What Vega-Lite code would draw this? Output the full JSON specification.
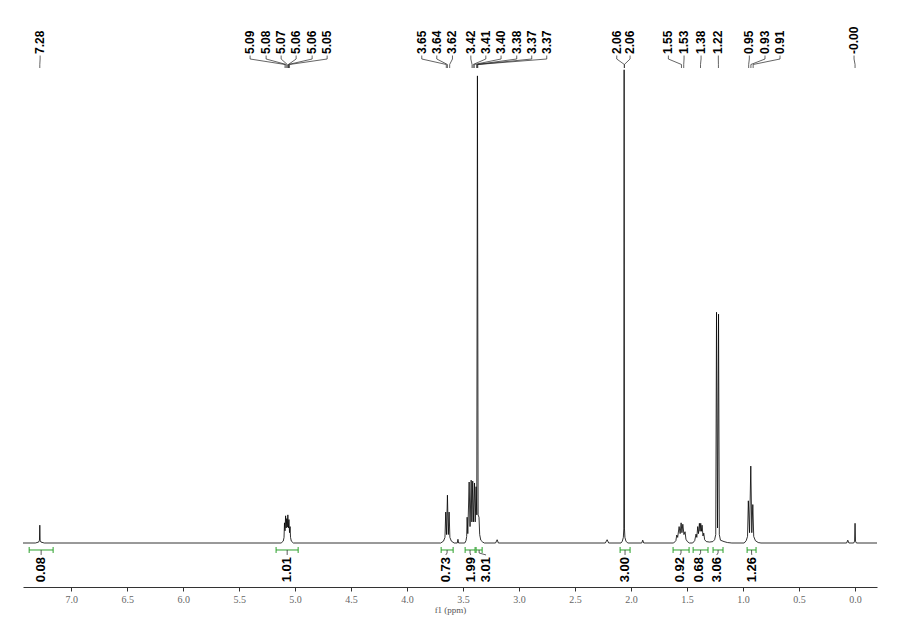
{
  "$schema": "https://vega.github.io/schema/vega-lite/v6.json",
  "width": 854,
  "height": 587,
  "autosize": {"type": "none"},
  "padding": {"left": 23, "top": 0, "right": 23, "bottom": 48},
  "background": "white",
  "config": {"view": {"stroke": null}, "axisY": {"disable": true}, "axis": {"grid": false}},
  "datasets": {
    "spectrum": [
      {"ppm":7.43,"i":0},{"ppm":7.32,"i":0},{"ppm":7.29,"i":0.2},{"ppm":7.283,"i":0.6},{"ppm":7.28,"i":3.8},{"ppm":7.277,"i":0.6},{"ppm":7.27,"i":0.2},{"ppm":7.24,"i":0},
      {"ppm":5.125,"i":0},{"ppm":5.106,"i":0.4},{"ppm":5.099,"i":1.2},{"ppm":5.095,"i":4.3},{"ppm":5.09,"i":2.6},{"ppm":5.085,"i":5.8},{"ppm":5.08,"i":3.2},{"ppm":5.075,"i":5.2},{"ppm":5.07,"i":3.4},{"ppm":5.065,"i":6.0},{"ppm":5.06,"i":3.2},{"ppm":5.055,"i":5.0},{"ppm":5.05,"i":2.2},{"ppm":5.045,"i":3.5},{"ppm":5.041,"i":1.2},{"ppm":5.034,"i":0.4},{"ppm":5.015,"i":0},
      {"ppm":3.70,"i":0},{"ppm":3.675,"i":0.4},{"ppm":3.662,"i":1.2},{"ppm":3.655,"i":6.6},{"ppm":3.648,"i":1.8},{"ppm":3.64,"i":10.2},{"ppm":3.632,"i":1.8},{"ppm":3.625,"i":6.6},{"ppm":3.618,"i":1.2},{"ppm":3.605,"i":0.4},{"ppm":3.58,"i":0},
      {"ppm":3.552,"i":0},{"ppm":3.546,"i":0.8},{"ppm":3.54,"i":0},
      {"ppm":3.485,"i":0},{"ppm":3.474,"i":0.5},{"ppm":3.468,"i":1.4},{"ppm":3.464,"i":5.5},{"ppm":3.458,"i":2.0},{"ppm":3.446,"i":13.0},{"ppm":3.438,"i":3.5},{"ppm":3.428,"i":13.4},{"ppm":3.422,"i":4.5},{"ppm":3.414,"i":13.2},{"ppm":3.408,"i":4.5},{"ppm":3.398,"i":12.8},{"ppm":3.392,"i":4.5},{"ppm":3.384,"i":12.0},{"ppm":3.378,"i":6.0},{"ppm":3.372,"i":99.6},{"ppm":3.366,"i":6.0},{"ppm":3.358,"i":5.5},{"ppm":3.352,"i":1.8},{"ppm":3.342,"i":0.6},{"ppm":3.325,"i":0.2},{"ppm":3.31,"i":0},
      {"ppm":3.21,"i":0},{"ppm":3.196,"i":0.7},{"ppm":3.185,"i":0},
      {"ppm":2.23,"i":0},{"ppm":2.214,"i":0.7},{"ppm":2.20,"i":0},
      {"ppm":2.09,"i":0},{"ppm":2.078,"i":0.4},{"ppm":2.069,"i":1.2},{"ppm":2.065,"i":3.0},{"ppm":2.062,"i":100.9},{"ppm":2.059,"i":3.0},{"ppm":2.055,"i":1.2},{"ppm":2.046,"i":0.4},{"ppm":2.03,"i":0},
      {"ppm":1.905,"i":0},{"ppm":1.896,"i":0.6},{"ppm":1.887,"i":0},
      {"ppm":1.62,"i":0},{"ppm":1.60,"i":0.5},{"ppm":1.592,"i":1.7},{"ppm":1.584,"i":1.2},{"ppm":1.571,"i":3.5},{"ppm":1.562,"i":2.0},{"ppm":1.553,"i":4.3},{"ppm":1.546,"i":2.2},{"ppm":1.538,"i":4.0},{"ppm":1.528,"i":1.8},{"ppm":1.518,"i":2.4},{"ppm":1.51,"i":0.8},{"ppm":1.497,"i":0.3},{"ppm":1.48,"i":0},
      {"ppm":1.45,"i":0},{"ppm":1.432,"i":0.5},{"ppm":1.42,"i":1.9},{"ppm":1.413,"i":1.2},{"ppm":1.405,"i":3.5},{"ppm":1.398,"i":2.0},{"ppm":1.39,"i":4.2},{"ppm":1.384,"i":2.5},{"ppm":1.378,"i":4.2},{"ppm":1.372,"i":2.5},{"ppm":1.366,"i":3.8},{"ppm":1.358,"i":1.5},{"ppm":1.351,"i":2.1},{"ppm":1.343,"i":0.7},{"ppm":1.328,"i":0.3},{"ppm":1.30,"i":0.2},
      {"ppm":1.27,"i":0.3},{"ppm":1.254,"i":0.7},{"ppm":1.244,"i":1.8},{"ppm":1.237,"i":49.2},{"ppm":1.228,"i":3.2},{"ppm":1.219,"i":48.8},{"ppm":1.212,"i":1.8},{"ppm":1.202,"i":0.6},{"ppm":1.17,"i":0.3},{"ppm":1.14,"i":0.1},{"ppm":1.10,"i":0},
      {"ppm":0.99,"i":0},{"ppm":0.972,"i":0.5},{"ppm":0.96,"i":1.4},{"ppm":0.953,"i":9.0},{"ppm":0.942,"i":2.2},{"ppm":0.931,"i":16.4},{"ppm":0.922,"i":2.2},{"ppm":0.913,"i":8.2},{"ppm":0.905,"i":1.4},{"ppm":0.89,"i":0.5},{"ppm":0.865,"i":0.1},{"ppm":0.84,"i":0},
      {"ppm":0.075,"i":0},{"ppm":0.065,"i":0.6},{"ppm":0.055,"i":0},
      {"ppm":0.012,"i":0},{"ppm":0.004,"i":0.4},{"ppm":0.0,"i":4.2},{"ppm":-0.004,"i":0.4},{"ppm":-0.012,"i":0},{"ppm":-0.196,"i":0}
    ],
    "peaks": [
      {"label":"7.28","lpos":7.277,"ppm":7.28},
      {"label":"5.09","lpos":5.402,"ppm":5.09},
      {"label":"5.08","lpos":5.259,"ppm":5.08},
      {"label":"5.07","lpos":5.125,"ppm":5.07},
      {"label":"5.06","lpos":4.991,"ppm":5.06},
      {"label":"5.06","lpos":4.848,"ppm":5.06},
      {"label":"5.05","lpos":4.714,"ppm":5.05},
      {"label":"3.65","lpos":3.869,"ppm":3.65},
      {"label":"3.64","lpos":3.735,"ppm":3.64},
      {"label":"3.62","lpos":3.595,"ppm":3.62},
      {"label":"3.42","lpos":3.431,"ppm":3.42},
      {"label":"3.41","lpos":3.297,"ppm":3.41},
      {"label":"3.40","lpos":3.161,"ppm":3.40},
      {"label":"3.38","lpos":3.021,"ppm":3.38},
      {"label":"3.37","lpos":2.887,"ppm":3.37},
      {"label":"3.37","lpos":2.753,"ppm":3.37},
      {"label":"2.06","lpos":2.128,"ppm":2.06},
      {"label":"2.06","lpos":2.009,"ppm":2.06},
      {"label":"1.55","lpos":1.667,"ppm":1.55},
      {"label":"1.53","lpos":1.527,"ppm":1.53},
      {"label":"1.38","lpos":1.375,"ppm":1.38},
      {"label":"1.22","lpos":1.221,"ppm":1.22},
      {"label":"0.95","lpos":0.944,"ppm":0.95},
      {"label":"0.93","lpos":0.804,"ppm":0.93},
      {"label":"0.91","lpos":0.670,"ppm":0.91},
      {"label":"-0.00","lpos":0.009,"ppm":0.0}
    ],
    "integrals": [
      {"value":"0.08","from":7.375,"to":7.161,"mid":7.268,"lpos":7.268},
      {"value":"1.01","from":5.170,"to":4.973,"mid":5.071,"lpos":5.071},
      {"value":"0.73","from":3.696,"to":3.589,"mid":3.643,"lpos":3.655},
      {"value":"1.99","from":3.482,"to":3.393,"mid":3.438,"lpos":3.432},
      {"value":"3.01","from":3.384,"to":3.330,"mid":3.357,"lpos":3.295},
      {"value":"3.00","from":2.098,"to":2.009,"mid":2.054,"lpos":2.054},
      {"value":"0.92","from":1.625,"to":1.482,"mid":1.554,"lpos":1.563},
      {"value":"0.68","from":1.446,"to":1.313,"mid":1.379,"lpos":1.390},
      {"value":"3.06","from":1.268,"to":1.179,"mid":1.223,"lpos":1.235},
      {"value":"1.26","from":0.964,"to":0.884,"mid":0.924,"lpos":0.922}
    ]
  },
  "layer": [
    {
      "data": {"name": "spectrum"},
      "mark": {"type": "line", "color": "black", "strokeWidth": 0.8},
      "encoding": {
        "x": {"field": "ppm", "type": "quantitative",
          "scale": {"domain": [-0.196, 7.43], "reverse": true, "nice": false, "zero": false},
          "axis": {
            "values": [0,0.25,0.5,0.75,1,1.25,1.5,1.75,2,2.25,2.5,2.75,3,3.25,3.5,3.75,4,4.25,4.5,4.75,5,5.25,5.5,5.75,6,6.25,6.5,6.75,7,7.25],
            "labelExpr": "round(datum.value*2) == datum.value*2 ? format(datum.value, '.1f') : ''",
            "title": "f1 (ppm)",
            "domainColor": "#333", "tickColor": "#333", "tickSize": 4, "domainWidth": 1, "tickWidth": 1,
            "labelFont": "Liberation Serif", "labelFontSize": 10, "labelColor": "#666", "labelPadding": 3,
            "labelOverlap": false, "labelFlush": false,
            "titleFont": "Liberation Serif", "titleFontSize": 9, "titleFontWeight": "normal", "titleColor": "#555", "titlePadding": 1
          }
        },
        "y": {"field": "i", "type": "quantitative", "scale": {"domain": [-9.38, 115.78], "nice": false, "zero": false}, "axis": null}
      }
    },
    {
      "data": {"name": "peaks"},
      "mark": {"type": "rule", "color": "#222", "strokeWidth": 0.7},
      "encoding": {
        "x": {"field": "lpos", "type": "quantitative"},
        "y": {"datum": 103.94, "type": "quantitative", "axis": null},
        "y2": {"datum": 103.2}
      }
    },
    {
      "data": {"name": "peaks"},
      "mark": {"type": "rule", "color": "#222", "strokeWidth": 0.7},
      "encoding": {
        "x": {"field": "lpos", "type": "quantitative"},
        "x2": {"field": "ppm"},
        "y": {"datum": 103.2, "type": "quantitative", "axis": null},
        "y2": {"datum": 102.03}
      }
    },
    {
      "data": {"name": "peaks"},
      "mark": {"type": "rule", "color": "#222", "strokeWidth": 0.7},
      "encoding": {
        "x": {"field": "ppm", "type": "quantitative"},
        "y": {"datum": 102.03, "type": "quantitative", "axis": null},
        "y2": {"datum": 101.28}
      }
    },
    {
      "data": {"name": "peaks"},
      "mark": {"type": "text", "angle": 270, "align": "left", "baseline": "middle", "font": "Liberation Sans", "fontSize": 12, "fontWeight": "bold", "color": "black"},
      "encoding": {
        "x": {"field": "lpos", "type": "quantitative"},
        "y": {"datum": 104.26, "type": "quantitative", "axis": null},
        "text": {"field": "label"}
      }
    },
    {
      "data": {"name": "integrals"},
      "mark": {"type": "rule", "color": "#2ca02c", "strokeWidth": 1},
      "encoding": {
        "x": {"field": "from", "type": "quantitative"},
        "x2": {"field": "to"},
        "y": {"datum": -1.49, "type": "quantitative", "axis": null}
      }
    },
    {
      "data": {"name": "integrals"},
      "mark": {"type": "rule", "color": "#2ca02c", "strokeWidth": 1},
      "encoding": {
        "x": {"field": "from", "type": "quantitative"},
        "y": {"datum": -0.85, "type": "quantitative", "axis": null},
        "y2": {"datum": -2.13}
      }
    },
    {
      "data": {"name": "integrals"},
      "mark": {"type": "rule", "color": "#2ca02c", "strokeWidth": 1},
      "encoding": {
        "x": {"field": "to", "type": "quantitative"},
        "y": {"datum": -0.85, "type": "quantitative", "axis": null},
        "y2": {"datum": -2.13}
      }
    },
    {
      "data": {"name": "integrals"},
      "mark": {"type": "rule", "color": "#333", "strokeWidth": 0.8},
      "encoding": {
        "x": {"field": "mid", "type": "quantitative"},
        "y": {"datum": -1.49, "type": "quantitative", "axis": null},
        "y2": {"datum": -2.13}
      }
    },
    {
      "data": {"name": "integrals"},
      "mark": {"type": "rule", "color": "#333", "strokeWidth": 0.8},
      "encoding": {
        "x": {"field": "mid", "type": "quantitative"},
        "x2": {"field": "lpos"},
        "y": {"datum": -2.13, "type": "quantitative", "axis": null},
        "y2": {"datum": -2.55}
      }
    },
    {
      "data": {"name": "integrals"},
      "mark": {"type": "text", "angle": 270, "align": "right", "baseline": "middle", "font": "Liberation Sans", "fontSize": 13, "fontWeight": "bold", "color": "black"},
      "encoding": {
        "x": {"field": "lpos", "type": "quantitative"},
        "y": {"datum": -2.985, "type": "quantitative", "axis": null},
        "text": {"field": "value"}
      }
    }
  ]
}
